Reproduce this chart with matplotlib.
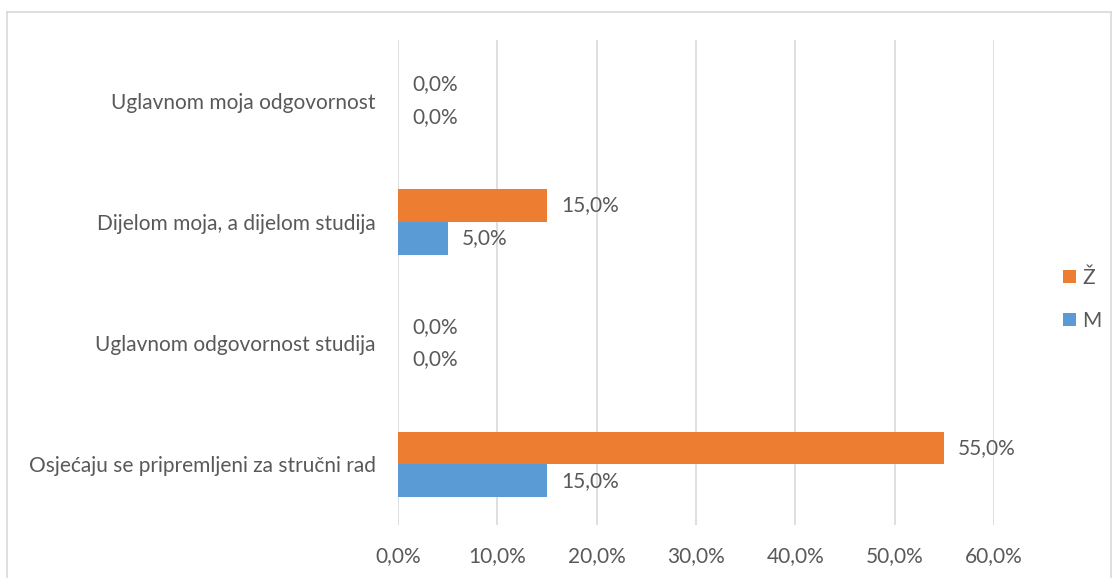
import numpy as np
import matplotlib.pyplot as plt
from matplotlib.lines import Line2D

categories = ["Uglavnom moja odgovornost",
              "Dijelom moja, a dijelom studija",
              "Uglavnom odgovornost studija",
              "Osjećaju se pripremljeni za stručni rad"]
zh = [0.0, 15.0, 0.0, 55.0]   # Ž
m = [0.0, 5.0, 0.0, 15.0]     # M
xticks = [0, 10, 20, 30, 40, 50, 60]

c_z = "#ed7d31"
c_m = "#5b9bd5"
txt = "#595959"
fs = 15
plt.rcParams['font.family'] = ['Lato', 'DejaVu Sans']

fig = plt.figure(figsize=(11.13, 5.78), dpi=100)
ax = fig.add_axes([398/1113, 1 - 525/578, (994 - 398)/1113, (525 - 40)/578])

y = np.arange(len(categories))
h = 0.27
bz = ax.barh(y - h/2, zh, height=h, color=c_z, label="Ž")
bm = ax.barh(y + h/2, m, height=h, color=c_m, label="M")

for bars, vals in ((bz, zh), (bm, m)):
    for b, v in zip(bars, vals):
        ax.annotate(f"{v:.1f}%".replace(".", ","), (v, b.get_y() + b.get_height()/2),
                    xytext=(10, 0), textcoords="offset points",
                    va="center", ha="left", fontsize=fs, color=txt)

ax.set_ylim(len(categories) - 0.5, -0.5)
ax.set_xlim(0, 60)
ax.set_xticks(xticks)
ax.set_xticklabels([f"{t:.1f}%".replace(".", ",") for t in xticks])
ax.set_yticks(y)
ax.set_yticklabels(categories)
ax.tick_params(length=0, labelsize=fs, labelcolor=txt)
ax.tick_params(axis='x', pad=15)
ax.tick_params(axis='y', pad=16)
ax.xaxis.grid(True, color="#d9d9d9", linewidth=1.2)
ax.set_axisbelow(True)
for s in ax.spines.values():
    s.set_visible(False)

ax.legend(handles=[bz, bm], loc="center left", bbox_to_anchor=(1.085, 0.465),
          frameon=False, fontsize=fs, labelcolor=txt, handlelength=0.6,
          handleheight=0.6, handletextpad=0.3, labelspacing=1.1)

# outer chart border
fig.add_artist(Line2D([7/1113, 7/1113], [0, 1 - 12/578], color="#d9d9d9", lw=1.2))
fig.add_artist(Line2D([7/1113, 1111/1113], [1 - 12/578, 1 - 12/578], color="#d9d9d9", lw=1.2))
fig.add_artist(Line2D([1111/1113, 1111/1113], [0, 1 - 12/578], color="#d9d9d9", lw=1.2))

fig.savefig("out.png", dpi=100)
